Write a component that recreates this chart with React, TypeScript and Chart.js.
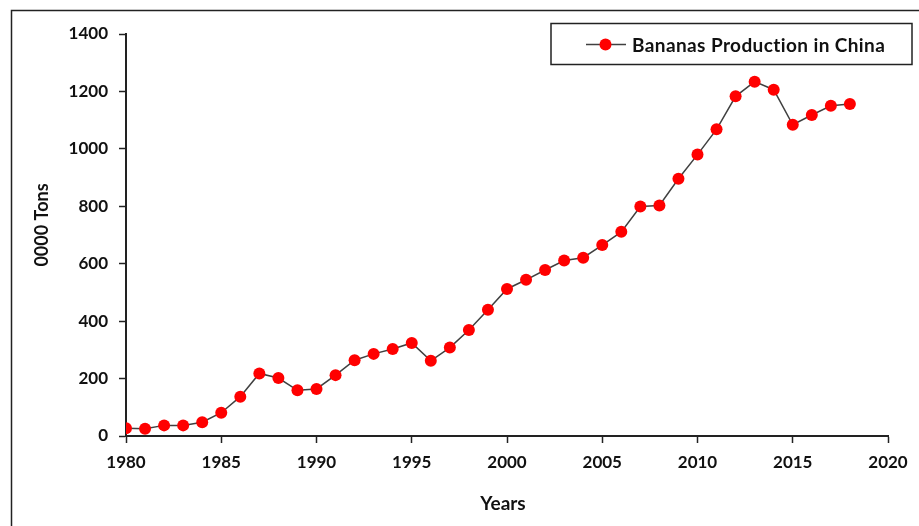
import React, { useEffect, useRef } from "react";
import { Chart, registerables } from "chart.js";

Chart.register(...registerables);

const seriesLabel = "Bananas Production in China";
const years = [
  1980, 1981, 1982, 1983, 1984, 1985, 1986, 1987, 1988, 1989,
  1990, 1991, 1992, 1993, 1994, 1995, 1996, 1997, 1998, 1999,
  2000, 2001, 2002, 2003, 2004, 2005, 2006, 2007, 2008, 2009,
  2010, 2011, 2012, 2013, 2014, 2015, 2016, 2017, 2018,
];
const production = [
  27, 25, 37, 37, 48, 81, 137, 218, 202, 159,
  164, 212, 264, 286, 303, 324, 262, 308, 369, 440,
  512, 544, 578, 611, 621, 665, 711, 799, 803, 896,
  980, 1068, 1183, 1234, 1206, 1084, 1118, 1150, 1156,
];
const xMin = 1980;
const xMax = 2020;
const xStep = 5;
const yMin = 0;
const yMax = 1400;
const yStep = 200;
const xTitle = "Years";
const yTitle = "0000 Tons";

const FONT = "Lato, 'Open Sans', sans-serif";
const TEXT = "#111111";
const AXIS = "#222222";

const frame = {
  id: "frame",
  beforeDraw(chart: any) {
    const { ctx } = chart;
    ctx.save();
    ctx.fillStyle = "#ffffff";
    ctx.fillRect(0, 0, chart.width, chart.height);
    ctx.strokeStyle = AXIS;
    ctx.lineWidth = 1.5;
    ctx.strokeRect(11.5, 10.5, chart.width + 10, chart.height + 10);
    ctx.restore();
  },
};

const axisTitles = {
  id: "axisTitles",
  afterDraw(chart: any) {
    const { ctx } = chart;
    ctx.save();
    ctx.fillStyle = TEXT;
    ctx.textAlign = "center";
    ctx.textBaseline = "middle";
    ctx.font = `bold 19px ${FONT}`;
    ctx.fillText(xTitle, 503, 504);
    ctx.translate(42, 225);
    ctx.rotate(-Math.PI / 2);
    ctx.font = `bold 18px ${FONT}`;
    ctx.fillText(yTitle, 0, 0);
    ctx.restore();
  },
};

const legendBox = {
  id: "legendBox",
  afterDraw(chart: any) {
    const { ctx } = chart;
    const ds = chart.data.datasets[0];
    ctx.save();
    ctx.strokeStyle = AXIS;
    ctx.lineWidth = 1.5;
    ctx.strokeRect(551, 23.5, 361, 41);
    const cy = 44.5;
    ctx.strokeStyle = ds.borderColor;
    ctx.lineWidth = 1.5;
    ctx.beginPath();
    ctx.moveTo(586, cy);
    ctx.lineTo(626, cy);
    ctx.stroke();
    ctx.fillStyle = ds.pointBackgroundColor;
    ctx.beginPath();
    ctx.arc(605.5, cy, 6, 0, Math.PI * 2);
    ctx.fill();
    ctx.fillStyle = TEXT;
    ctx.font = `bold 19px ${FONT}`;
    try {
      (ctx as any).letterSpacing = "0.4px";
    } catch (e) {}
    ctx.textBaseline = "middle";
    ctx.textAlign = "left";
    ctx.fillText(ds.label, 632, cy + 1);
    ctx.restore();
  },
};

export default function App() {
  const ref = useRef<HTMLCanvasElement | null>(null);
  useEffect(() => {
    if (!ref.current) return;
    const chart = new Chart(ref.current, {
      type: "line",
      data: {
        datasets: [
          {
            label: seriesLabel,
            data: years.map((y, i) => ({ x: y, y: production[i] })),
            borderColor: "#404040",
            borderWidth: 1.5,
            pointBackgroundColor: "#ff0000",
            pointBorderColor: "#ff0000",
            pointBorderWidth: 0,
            pointRadius: 6,
            tension: 0,
          },
        ],
      },
      options: {
        animation: false,
        responsive: false,
        maintainAspectRatio: false,
        layout: { padding: { left: 0, top: 34, right: 31, bottom: 0 } },
        plugins: { legend: { display: false }, tooltip: { enabled: false } },
        scales: {
          x: {
            type: "linear",
            min: xMin,
            max: xMax,
            afterFit: (s: any) => {
              s.height = 90;
            },
            border: { display: true, color: AXIS, width: 2 },
            grid: { drawOnChartArea: false, drawTicks: true, tickLength: 7, tickColor: AXIS, tickWidth: 1.5 },
            ticks: {
              stepSize: xStep,
              padding: 9,
              color: TEXT,
              font: { family: FONT, size: 17, weight: "bold" },
              callback: (v: any) => String(v),
            },
            title: { display: false },
          },
          y: {
            type: "linear",
            min: yMin,
            max: yMax,
            afterFit: (s: any) => {
              s.width = 126;
            },
            border: { display: true, color: AXIS, width: 2 },
            grid: { drawOnChartArea: false, drawTicks: true, tickLength: 7, tickColor: AXIS, tickWidth: 1.5 },
            ticks: {
              stepSize: yStep,
              padding: 11,
              color: TEXT,
              font: { family: FONT, size: 17, weight: "bold" },
              callback: (v: any) => String(v),
            },
            title: { display: false },
          },
        },
      },
      plugins: [frame, axisTitles, legendBox],
    });
    return () => chart.destroy();
  }, []);
  return (
    <div style={{ position: "fixed", left: 0, top: 0, width: 919, height: 526 }}>
      <canvas ref={ref} width={919} height={526} style={{ width: 919, height: 526, display: "block" }} />
    </div>
  );
}
